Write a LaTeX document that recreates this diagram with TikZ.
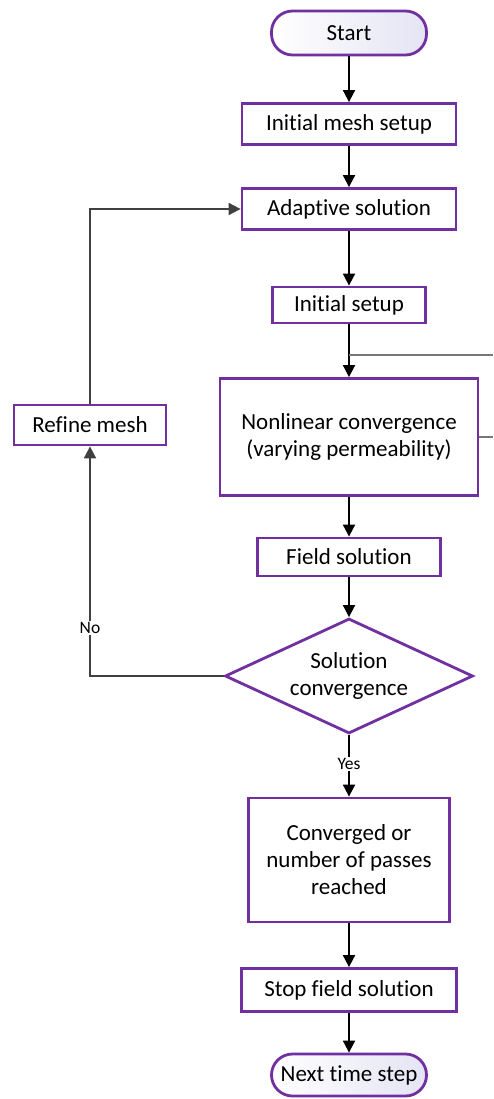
\documentclass[tikz,border=0pt]{standalone}
\usepackage{fontspec}
\setmainfont[Ligatures=CommonOff]{Carlito}
\usetikzlibrary{arrows.meta,shapes.geometric}
\definecolor{frame}{RGB}{112,48,160}
\definecolor{lav}{RGB}{228,228,244}
\definecolor{linegray}{RGB}{64,64,64}
\definecolor{edgegray}{RGB}{120,120,120}
\begin{document}
\begin{tikzpicture}[x=1pt,y=-1pt,
  every node/.style={font=\fontsize{23}{27}\selectfont, text=black, align=center, inner sep=0pt},
  procbox/.style={draw=frame, line width=2.8pt, fill=white, rectangle},
  terminal/.style={draw=frame, line width=2.8pt, rounded corners=21pt, left color=white, right color=lav},
  decision/.style={draw=frame, line width=2.8pt, fill=white, diamond, aspect=2.16},
  flow/.style={line width=1.8pt, draw=black, -{Triangle[length=12pt,width=12pt]}},
  loop/.style={line width=1.8pt, draw=linegray, -{Triangle[length=12pt,width=12pt]}},
  side/.style={line width=1.8pt, draw=edgegray},
  small/.style={font=\fontsize{17.5}{20}\selectfont, fill=white, inner sep=1.5pt}
]
\useasboundingbox (0,0) rectangle (493,1099);

% main column
\node[terminal, minimum width=155pt, minimum height=44pt] (start) at (349,33) {Start};
\node[procbox, minimum width=214pt, minimum height=41pt] (mesh) at (349,124) {Initial mesh setup};
\node[procbox, minimum width=214pt, minimum height=41pt] (adapt) at (349,209) {Adaptive solution};
\node[procbox, minimum width=153pt, minimum height=36pt] (isetup) at (349,305) {Initial setup};
\node[procbox, minimum width=258pt, minimum height=117pt] (nonlin) at (349,437) {Nonlinear convergence\\(varying permeability)};
\node[procbox, minimum width=183pt, minimum height=38pt] (field) at (349,557) {Field solution};
\node[decision, minimum width=248pt, minimum height=115pt] (conv) at (349,676) {Solution\\convergence};
\node[procbox, minimum width=201pt, minimum height=124pt] (done) at (349,860) {Converged or\\number of passes\\reached};
\node[procbox, minimum width=215pt, minimum height=43pt] (stop) at (349,990) {Stop field solution};
\node[terminal, minimum width=155pt, minimum height=42pt] (next) at (349,1075) {Next time step};

% refinement branch
\node[procbox, minimum width=152pt, minimum height=40pt] (refine) at (90,425) {Refine mesh};

% connectors down the main column
\draw[flow] (start) -- (mesh);
\draw[flow] (mesh) -- (adapt);
\draw[flow] (adapt) -- (isetup);
\draw[flow] (isetup.south) -- (nonlin.north);
\draw[flow] (nonlin) -- (field);
\draw[flow] (field) -- (conv);
\draw[flow] (conv.south) -- node[small, pos=0.47] {Yes} (done.north);
\draw[flow] (done) -- (stop);
\draw[flow] (stop) -- (next);

% loop back through mesh refinement
\draw[loop] (conv.west) -| node[small, pos=0.605] {No} (refine.south);
\draw[loop] (refine.north) |- (adapt.west);

% side lines leaving to the right
\coordinate (tapA) at (349,355);
\coordinate (outA) at (493,355);
\coordinate (outB) at (493,437);
\draw[side] (tapA) -- (outA);
\draw[side] (nonlin.east) -- (outB);
\end{tikzpicture}
\end{document}
